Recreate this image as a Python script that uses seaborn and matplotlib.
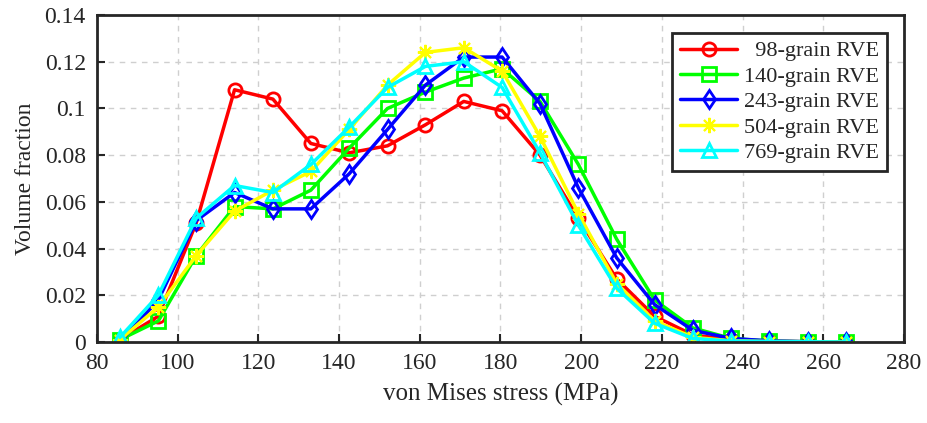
import matplotlib
matplotlib.use("Agg")
import matplotlib.pyplot as plt
import seaborn as sns
import pandas as pd
from matplotlib.ticker import FuncFormatter

stress = [85.7, 95.2, 104.6, 114.1, 123.6, 133.0, 142.5, 152.0, 161.4, 170.9,
          180.4, 189.8, 199.3, 208.8, 218.2, 227.7, 237.2, 246.6, 256.1, 265.6]

rve98 = [0.001, 0.011, 0.051, 0.108, 0.104, 0.085, 0.081, 0.084, 0.093, 0.103,
         0.099, 0.080, 0.053, 0.027, 0.011, 0.003, 0.001, 0.0003, 0.0001, 0.0]
rve140 = [0.001, 0.009, 0.037, 0.058, 0.057, 0.065, 0.083, 0.100, 0.107, 0.113,
          0.117, 0.103, 0.076, 0.044, 0.018, 0.006, 0.0015, 0.0004, 0.0001, 0.0]
rve243 = [0.0, 0.018, 0.052, 0.064, 0.057, 0.057, 0.072, 0.091, 0.110, 0.122,
          0.122, 0.102, 0.066, 0.036, 0.016, 0.005, 0.0015, 0.0005, 0.0001, 0.0]
rve504 = [0.001, 0.015, 0.037, 0.056, 0.065, 0.073, 0.091, 0.110, 0.124, 0.126,
          0.116, 0.088, 0.055, 0.025, 0.009, 0.002, 0.0005, 0.0002, 0.0001, 0.0]
rve769 = [0.002, 0.020, 0.053, 0.067, 0.064, 0.076, 0.092, 0.109, 0.118, 0.120,
          0.109, 0.081, 0.050, 0.023, 0.008, 0.0015, 0.0004, 0.0002, 0.0001, 0.0]

labels = ["  98-grain RVE", "140-grain RVE", "243-grain RVE", "504-grain RVE", "769-grain RVE"]
series = [rve98, rve140, rve243, rve504, rve769]
colors = ["#ff0000", "#00ff00", "#0000ff", "#ffff00", "#00ffff"]
markers = ["o", "s", "d", (8, 2, 0), "^"]

x_ticks = [80, 100, 120, 140, 160, 180, 200, 220, 240, 260, 280]
y_ticks = [0, 0.02, 0.04, 0.06, 0.08, 0.1, 0.12, 0.14]

sns.set_theme(style="white")
plt.rcParams["font.family"] = ["Liberation Serif", "DejaVu Serif"]

fig = plt.figure(figsize=(9.27, 4.23), dpi=100)
ax = fig.add_axes([0.1046, 0.1915, 0.9752 - 0.1046, 0.9645 - 0.1915])

for lab, vals, c, m in zip(labels, series, colors, markers):
    df = pd.DataFrame({"stress": stress, "frac": vals})
    star = isinstance(m, tuple)
    sns.lineplot(data=df, x="stress", y="frac", ax=ax, color=c, label=lab,
                 linewidth=2.5, marker=m, markersize=11 if star else 9.5,
                 markerfacecolor="none", markeredgecolor=c,
                 markeredgewidth=1.5 if star else 2.0, estimator=None)

ax.set_xlim(80, 280)
ax.set_ylim(0, 0.14)
ax.set_xticks(x_ticks)
ax.set_yticks(y_ticks)
ax.yaxis.set_major_formatter(FuncFormatter(lambda v, p: f"{v:g}"))
ax.tick_params(direction="in", length=6, width=1.5, labelsize=17, colors="#262626",
               top=False, right=False, bottom=True, left=True, pad=8)
ax.grid(True, linestyle=(0, (4, 4)), color="#cfcfcf", linewidth=1.0)
for s in ax.spines.values():
    s.set_linewidth(2.0)
    s.set_color("#262626")
ax.set_xlabel("von Mises stress (MPa)", fontsize=18, color="#262626", labelpad=6)
ax.set_ylabel("Volume fraction", fontsize=17, color="#262626", labelpad=6)

leg = ax.legend(loc="upper right", bbox_to_anchor=(0.979, 0.945), fontsize=16,
                frameon=True, fancybox=False, edgecolor="#262626", framealpha=1,
                handlelength=2.6, handletextpad=0.3, borderpad=0.35, labelspacing=0.22,
                borderaxespad=0.0)
leg.get_frame().set_linewidth(2.0)

fig.savefig("out.png", dpi=100)
